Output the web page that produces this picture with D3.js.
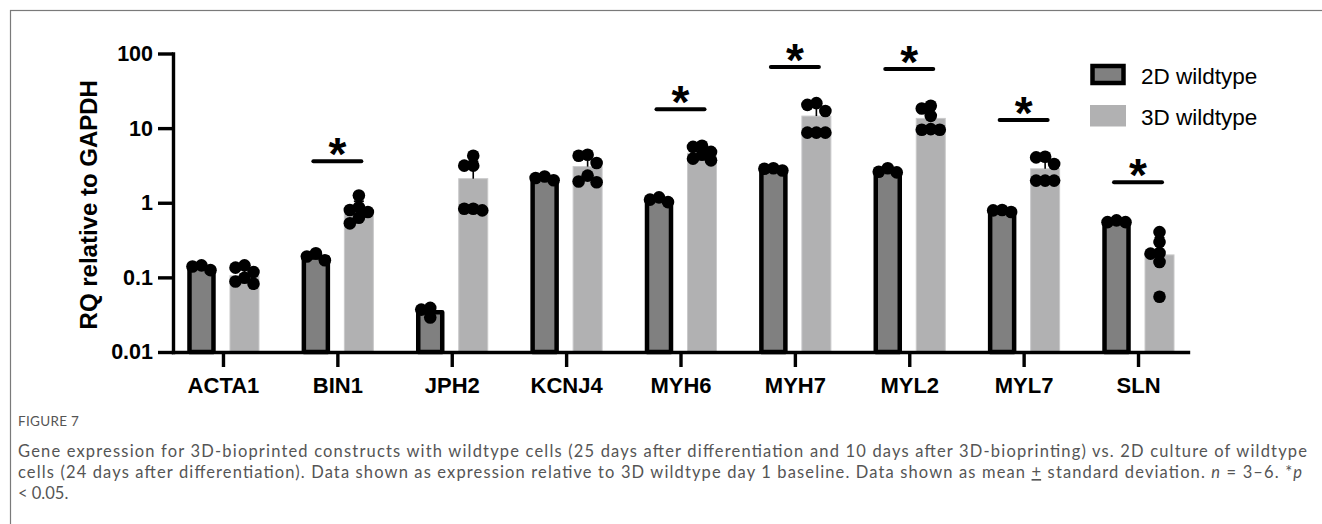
<!DOCTYPE html>
<html>
<head>
<meta charset="utf-8">
<script src="https://cdn.jsdelivr.net/npm/d3@7"></script>
<style>
  html, body { margin: 0; padding: 0; background: #fff; }
  svg { display: block; }
</style>
</head>
<body>
<svg id="chart" width="1322" height="524"></svg>
<script>
// ---------------- data ----------------
const categories = ["ACTA1", "BIN1", "JPH2", "KCNJ4", "MYH6", "MYH7", "MYL2", "MYL7", "SLN"];
const seriesNames = ["2D wildtype", "3D wildtype"];
const mean2D = [0.135, 0.185, 0.034, 2.1, 1.1, 2.8, 2.7, 0.78, 0.57];
const sd2D = [0.01, 0.02, 0.005, 0.12, 0.08, 0.1, 0.17, 0.03, 0.02];
const mean3D = [0.105, 0.8, 2.1, 3.05, 4.6, 14.5, 13.5, 2.85, 0.2];
const sd3D = [0.025, 0.25, 1.5, 1.1, 0.85, 6.0, 4.6, 1.1, 0.14];
const points2D = [
  [0.125, 0.145, 0.14], [0.17, 0.21, 0.19], [0.029, 0.039, 0.037],
  [2.0, 2.25, 2.15], [1.02, 1.18, 1.1], [2.7, 2.9, 2.85],
  [2.55, 2.9, 2.6], [0.75, 0.8, 0.79], [0.55, 0.58, 0.55]
];
const points3D = [
  [0.145, 0.135, 0.118, 0.099, 0.088, 0.082],
  [1.25, 0.87, 0.8, 0.75, 0.63, 0.53],
  [4.27, 3.14, 3.14, 0.79, 0.83, 0.83],
  [4.27, 4.4, 3.41, 1.88, 1.93, 2.31],
  [5.6, 5.8, 4.8, 4.4, 3.7, 3.9],
  [21.6, 20.5, 17.0, 8.7, 8.7, 8.7],
  [19.9, 18.3, 14.6, 9.5, 9.7, 9.5],
  [4.14, 4.05, 3.31, 1.98, 1.98, 1.98],
  [0.404, 0.297, 0.212, 0.208, 0.161, 0.055]
];
const sigLevel = [null, 3.6, null, null, 17.9, 66, 62, 12.8, 1.88];
const yTickValues = [0.01, 0.1, 1, 10, 100];
const yTickLabels = ["0.01", "0.1", "1", "10", "100"];
const yTitle = "RQ relative to GAPDH";
const figureLabel = "FIGURE 7";

// ---------------- layout ----------------
const svg = d3.select("#chart");
const W = 1322, H = 524;
svg.append("rect").attr("width", W).attr("height", H).attr("fill", "#fff");
svg.append("rect").attr("x", 10.5).attr("y", 10.5).attr("width", W).attr("height", H + 20)
  .attr("fill", "none").attr("stroke", "#7a7a7a").attr("stroke-width", 1.2);

const plotLeft = 173, plotRight = 1188, plotTop = 53.5, plotBottom = 352;
const colors = { "2D wildtype": "#808080", "3D wildtype": "#b1b1b2" };

const y = d3.scaleLog().domain([0.01, 100]).range([plotBottom, plotTop]);
const x = d3.scalePoint().domain(categories).range([plotLeft, plotRight]).padding(0.437);
const xs = d3.scaleBand().domain(seriesNames).range([-43, 43]);
const barW2D = 24, barW3D = 29, strokeBar = 4.5;

const g = svg.append("g");

const groups = categories.map((c, i) => ({
  cat: c,
  bars: [
    { s: seriesNames[0], mean: mean2D[i], sd: sd2D[i], pts: points2D[i] },
    { s: seriesNames[1], mean: mean3D[i], sd: sd3D[i], pts: points3D[i] }
  ]
}));

// bars
groups.forEach(gr => {
  gr.bars.forEach(b => {
    const cx = x(gr.cat) + xs(b.s) + xs.bandwidth() / 2;
    b.cx = cx;
    if (b.s === seriesNames[0]) {
      g.append("rect")
        .attr("x", cx - barW2D / 2).attr("width", barW2D)
        .attr("y", y(b.mean)).attr("height", plotBottom - y(b.mean))
        .attr("fill", colors[b.s]).attr("stroke", "#000").attr("stroke-width", strokeBar)
        .attr("stroke-linejoin", "round");
    } else {
      g.append("rect")
        .attr("x", cx - barW3D / 2).attr("width", barW3D)
        .attr("y", y(b.mean)).attr("height", plotBottom - y(b.mean))
        .attr("fill", colors[b.s]).attr("stroke", "#c9c9ca").attr("stroke-width", 1);
    }
  });
});

// error bars (upward SD)
groups.forEach(gr => {
  gr.bars.forEach(b => {
    const y0 = y(b.mean), y1 = y(b.mean + b.sd);
    g.append("line").attr("x1", b.cx).attr("x2", b.cx).attr("y1", y0).attr("y2", y1)
      .attr("stroke", "#000").attr("stroke-width", 1.6);
    g.append("line").attr("x1", b.cx - 5).attr("x2", b.cx + 5).attr("y1", y1).attr("y2", y1)
      .attr("stroke", "#000").attr("stroke-width", 1.6);
  });
});

// axes
const yAxis = d3.axisLeft(y).tickValues(yTickValues)
  .tickFormat((d, i) => yTickLabels[i]).tickSize(15).tickSizeOuter(0).tickPadding(5);
const xAxis = d3.axisBottom(x).tickSize(15).tickSizeOuter(0).tickPadding(10);

const gy = svg.append("g").attr("transform", `translate(${plotLeft},0)`).call(yAxis);
const gx = svg.append("g").attr("transform", `translate(0,${plotBottom})`).call(xAxis);
[gy, gx].forEach(a => {
  a.select(".domain").attr("stroke", "#000").attr("stroke-width", 3.4).attr("stroke-linecap", "square");
  a.selectAll(".tick line").attr("stroke", "#000").attr("stroke-width", 3.4);
  a.selectAll(".tick text").attr("fill", "#000")
    .attr("font-family", "'Liberation Sans', Arial, sans-serif").attr("font-weight", "bold");
});
gy.selectAll(".tick text").attr("font-size", 21.5);
gx.selectAll(".tick text").attr("font-size", 22);

// dots (simple swarm, kept within bar width)
const dotR = 6.3, dStep = 9, minD = 8.5;
groups.forEach(gr => {
  gr.bars.forEach(b => {
    const order = b.pts.map((v, i) => i).sort((a, c) => b.pts[c] - b.pts[a]);
    const placed = [];
    order.forEach(i => {
      const py = y(b.pts[i]);
      const offs = [0, -dStep, dStep];
      let chosen = null, best = -1, bestO = 0;
      for (const o of offs) {
        const md = placed.length ? d3.min(placed, p => Math.hypot(p.x - o, p.y - py)) : Infinity;
        if (md >= minD) { chosen = o; break; }
        if (md > best) { best = md; bestO = o; }
      }
      if (chosen === null) chosen = bestO;
      placed.push({ x: chosen, y: py });
    });
    g.selectAll(null).data(placed).enter().append("circle")
      .attr("cx", d => b.cx + d.x).attr("cy", d => d.y).attr("r", dotR).attr("fill", "#000");
  });
});

// significance bars
categories.forEach((c, i) => {
  if (sigLevel[i] == null) return;
  const ly = y(sigLevel[i]);
  const cx = x(c);
  svg.append("line").attr("x1", cx - 24).attr("x2", cx + 24).attr("y1", ly).attr("y2", ly)
    .attr("stroke", "#000").attr("stroke-width", 4).attr("stroke-linecap", "round");
  svg.append("text").attr("x", cx).attr("y", ly + 9).attr("text-anchor", "middle")
    .attr("font-family", "'Liberation Sans', Arial, sans-serif").attr("font-weight", "bold")
    .attr("font-size", 46).text("*");
});

// y title
svg.append("text")
  .attr("transform", `translate(97,${(plotTop + plotBottom) / 2 + 2}) rotate(-90)`)
  .attr("text-anchor", "middle")
  .attr("font-family", "'Liberation Sans', Arial, sans-serif").attr("font-weight", "bold")
  .attr("font-size", 24).text(yTitle);

// legend
const lg = svg.append("g");
seriesNames.forEach((s, i) => {
  const ly = 75 + i * 41;
  if (i === 0) {
    lg.append("rect").attr("x", 1092.5).attr("y", ly - 9).attr("width", 31).attr("height", 17)
      .attr("fill", colors[s]).attr("stroke", "#000").attr("stroke-width", 4.5);
  } else {
    lg.append("rect").attr("x", 1090).attr("y", ly - 11).attr("width", 36).attr("height", 21.5)
      .attr("fill", colors[s]);
  }
  lg.append("text").attr("x", 1141).attr("y", ly + 9)
    .attr("font-family", "'Liberation Sans', Arial, sans-serif").attr("font-size", 22.5)
    .attr("fill", "#000").text(s);
});

// caption
const capFont = "Lato, 'Open Sans', sans-serif";
svg.append("text").attr("x", 18).attr("y", 426)
  .attr("font-family", capFont).attr("font-size", 13.5).attr("fill", "#555")
  .attr("letter-spacing", 0.3).text(figureLabel);

const cap1 = svg.append("text").attr("x", 18).attr("y", 457)
  .attr("font-family", capFont).attr("font-size", 16.5).attr("fill", "#555")
  .attr("textLength", 1289).attr("lengthAdjust", "spacing");
cap1.text("Gene expression for 3D-bioprinted constructs with wildtype cells (25 days after differentiation and 10 days after 3D-bioprinting) vs. 2D culture of wildtype");

const cap2 = svg.append("text").attr("x", 18).attr("y", 478)
  .attr("font-family", capFont).attr("font-size", 16.5).attr("fill", "#555")
  .attr("textLength", 1284).attr("lengthAdjust", "spacing");
cap2.append("tspan").text("cells (24 days after differentiation). Data shown as expression relative to 3D wildtype day 1 baseline. Data shown as mean ");
cap2.append("tspan").attr("text-decoration", "underline").text("+");
cap2.append("tspan").text(" standard deviation. ");
cap2.append("tspan").attr("font-style", "italic").text("n");
cap2.append("tspan").text(" = 3–6. *");
cap2.append("tspan").attr("font-style", "italic").text("p");

svg.append("text").attr("x", 18).attr("y", 499)
  .attr("font-family", capFont).attr("font-size", 16.5).attr("fill", "#555")
  .text("< 0.05.");
</script>
</body>
</html>
